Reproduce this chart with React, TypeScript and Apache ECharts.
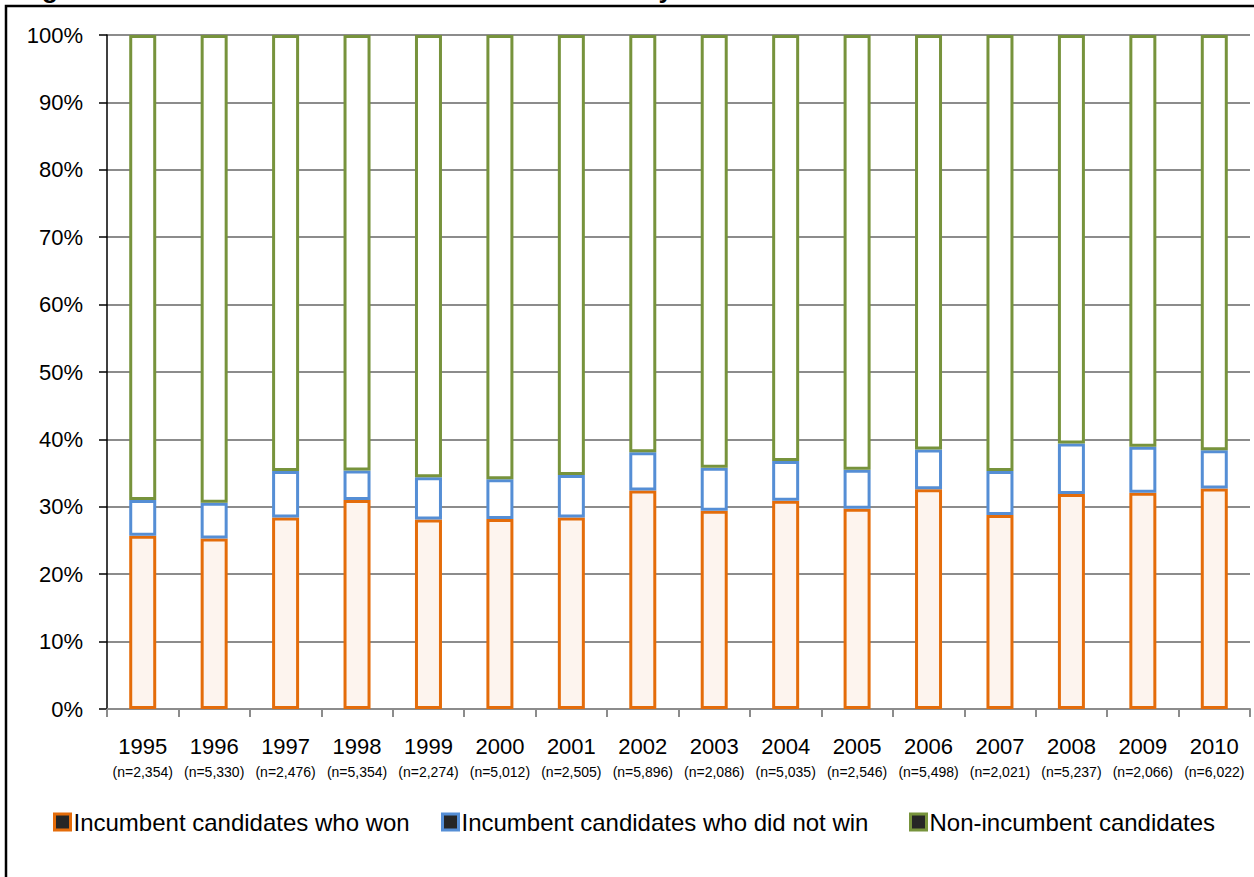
import React, { useEffect, useRef } from "react";
import * as echarts from "echarts";

const titleText = "Figure 6: Percent of Local Contests Won and Lost by Incumbent Candidates";
const years = ["1995","1996","1997","1998","1999","2000","2001","2002","2003","2004","2005","2006","2007","2008","2009","2010"];
const sampleSizes = ["2,354","5,330","2,476","5,354","2,274","5,012","2,505","5,896","2,086","5,035","2,546","5,498","2,021","5,237","2,066","6,022"];
const seriesNames = ["Incumbent candidates who won", "Incumbent candidates who did not win", "Non-incumbent candidates"];
const incumbentWon = [25.7, 25.3, 28.4, 31.0, 28.1, 28.2, 28.4, 32.4, 29.4, 30.9, 29.7, 32.6, 28.8, 31.9, 32.1, 32.7];
const incumbentLost = [5.3, 5.3, 6.9, 4.4, 6.3, 5.9, 6.3, 5.7, 6.4, 5.9, 5.8, 5.9, 6.5, 7.5, 6.8, 5.7];
const nonIncumbent = [69.0, 69.4, 64.7, 64.6, 65.6, 65.9, 65.3, 61.9, 64.2, 63.2, 64.5, 61.5, 64.7, 60.6, 61.1, 61.6];
const yTicks = { min: 0, max: 100, interval: 10 };

const ORANGE = "#E46C0A";
const BLUE = "#558ED5";
const GREEN = "#77933C";
const SANS = "'Liberation Sans', Arial, sans-serif";

export default function App() {
  const ref = useRef<HTMLDivElement>(null);
  useEffect(() => {
    if (!ref.current) return;
    const chart = echarts.init(ref.current, undefined, { renderer: "svg" });
    const colors = [ORANGE, BLUE, GREEN];
    const fills = ["#FDF4EE", "#FFFFFF", "#FFFFFF"];
    const values = [incumbentWon, incumbentLost, nonIncumbent];
    const legendLefts = [48, 436, 904];
    chart.setOption({
      animation: false,
      backgroundColor: "#FFFFFF",
      graphic: [
        {
          type: "rect",
          shape: { x: 6, y: 6, width: 1400, height: 1000 },
          style: { fill: "none", stroke: "#000", lineWidth: 2.5 },
          silent: true,
        },
        {
          type: "text",
          x: 19,
          y: -11,
          style: {
            text: titleText,
            font: "bold 26px " + SANS,
            fill: "#000",
            verticalAlign: "middle",
          },
          silent: true,
        },
      ],
      grid: { left: 107, right: 4, top: 35, bottom: 168, containLabel: false },
      legend: seriesNames.map((n, i) => ({
        left: legendLefts[i],
        top: 805,
        itemWidth: 16,
        itemHeight: 16,
        icon: "rect",
        selectedMode: false,
        textStyle: { fontSize: 24, fontFamily: SANS, color: "#000", padding: [0, 0, 0, -2] },
        data: [
          {
            name: n,
            itemStyle: { color: "#262626", borderColor: colors[i], borderWidth: 3 },
          },
        ],
      })),
      xAxis: {
        type: "category",
        data: years,
        axisLine: { lineStyle: { color: "#8C8C8C", width: 2 } },
        axisTick: { show: true, length: 8, lineStyle: { color: "#8C8C8C", width: 2 } },
        axisLabel: {
          interval: 0,
          margin: 24,
          formatter: (v: string, i: number) => `{y|${v}}\n{n|(n=${sampleSizes[i]})}`,
          rich: {
            y: { fontSize: 22, fontFamily: SANS, color: "#000", lineHeight: 26 },
            n: { fontSize: 14, fontFamily: SANS, color: "#000", lineHeight: 25 },
          },
        },
      },
      yAxis: {
        type: "value",
        min: yTicks.min,
        max: yTicks.max,
        interval: yTicks.interval,
        axisLine: { show: true, lineStyle: { color: "#000", width: 1.5 } },
        axisTick: { show: true, length: 8, lineStyle: { color: "#000", width: 1.5 } },
        axisLabel: { formatter: "{value}%", fontSize: 22, fontFamily: SANS, color: "#000", margin: 24 },
        splitLine: { show: true, lineStyle: { color: "#8C8C8C", width: 2 } },
      },
      series: seriesNames.map((n, i) => ({
        name: n,
        type: "bar",
        stack: "total",
        barWidth: 27,
        data: values[i],
        itemStyle: { color: fills[i], borderColor: colors[i], borderWidth: 3 },
      })),
    });
    return () => chart.dispose();
  }, []);
  return <div ref={ref} style={{ position: "fixed", left: 0, top: 0, width: 1254, height: 877 }} />;
}
